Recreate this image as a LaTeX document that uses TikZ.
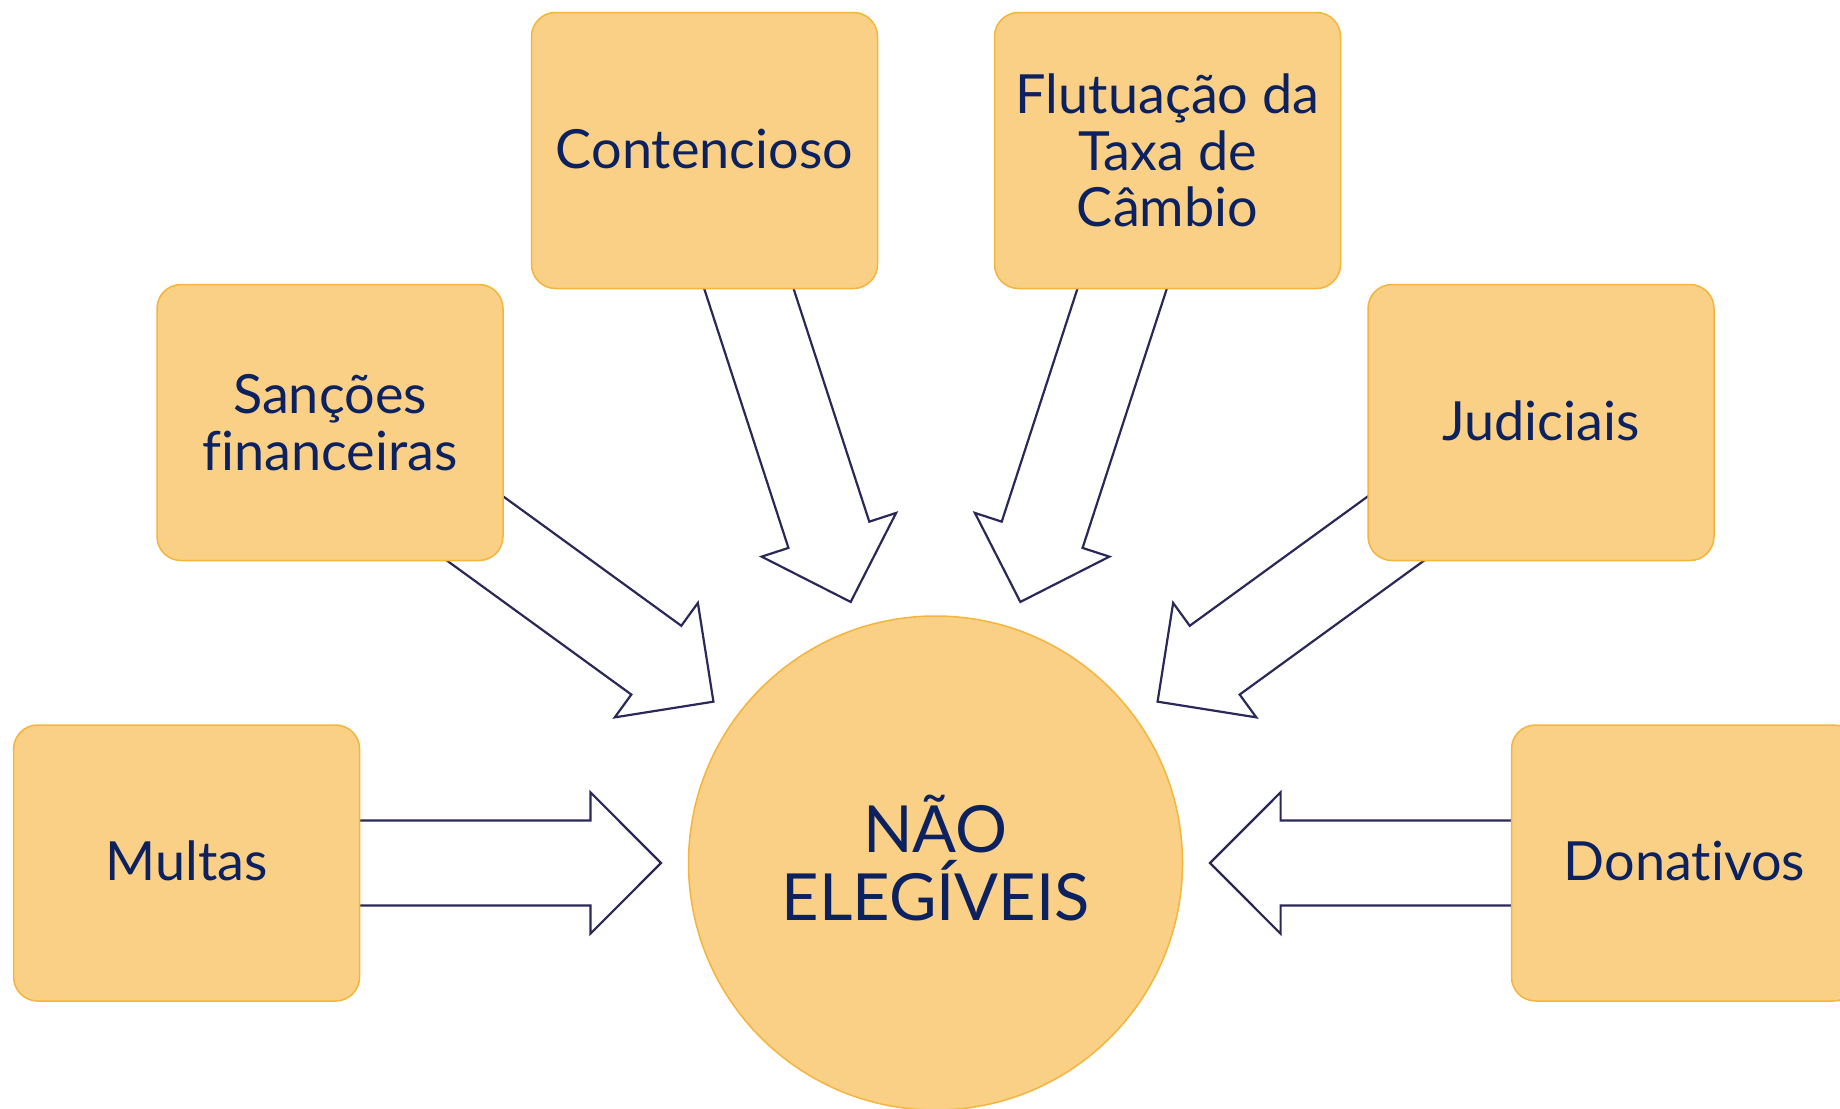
\documentclass[tikz,border=0pt]{standalone}
\usepackage{fontspec}
\setmainfont{Lato}[Ligatures={NoCommon}]
\definecolor{boxfill}{RGB}{250,208,134}
\definecolor{boxline}{RGB}{245,180,60}
\definecolor{txtcol}{RGB}{12,34,96}
\definecolor{arrcol}{RGB}{42,40,88}
\begin{document}
\begin{tikzpicture}[x=0.5pt,y=-0.5pt,
  box/.style={draw=boxline, line width=0.75pt, fill=boxfill, rounded corners=12pt,
    minimum width=173pt, minimum height=138pt, inner sep=0pt},
  lbl/.style={text=txtcol, font=\fontsize{27}{28.35}\selectfont, align=center, inner sep=0pt},
  biglbl/.style={text=txtcol, font=\fontsize{32.5}{34.35}\selectfont, align=center, inner sep=0pt},
  arrowline/.style={draw=arrcol, line width=1.1pt, line join=miter}]
\useasboundingbox (0,0) rectangle (1840,1108);
% central circle
\node[circle, draw=boxline, fill=boxfill, line width=0.75pt, minimum size=247pt, inner sep=0pt] (c) at (935.5,863) {};
% block arrows pointing at the circle
\foreach \a/\L in {0/620,36/600,72/650,108/650,144/600,180/620}{
  \draw[arrowline, shift={(c.center)}, rotate=\a]
    (274.5,0) -- (345.1,70.7) -- (345.1,42.5) -- (\L,42.5) -- (\L,-42.5)
    -- (345.1,-42.5) -- (345.1,-70.7) -- cycle;
}
% boxes
\node[box] (cont) at (704.5,150.5) {};
\node[box] (flut) at (1167.5,150.5) {};
\node[box] (sanc) at (330,422.5) {};
\node[box] (jud) at (1541,422.5) {};
\node[box] (mult) at (186.6,863) {};
\node[box] (don) at (1684.5,863) {};
% labels
\node[lbl, anchor=base, yshift=-8.9pt] (tcont) at (cont.center) {Contencioso};
\node[lbl] (tflut) at (flut.center) {Flutuação da\\Taxa de\\Câmbio};
\node[lbl] (tsanc) at (sanc.center) {Sanções\\financeiras};
\node[lbl, anchor=base, yshift=-8.9pt] (tjud) at (jud.center) {Judiciais};
\node[lbl, anchor=base, yshift=-8.9pt] (tmult) at (mult.center) {Multas};
\node[lbl, anchor=base, yshift=-8.9pt] (tdon) at (don.center) {Donativos};
\node[biglbl, yshift=2.5pt] (tc) at (c.center) {NÃO\\ELEGÍVEIS};
\end{tikzpicture}
\end{document}
